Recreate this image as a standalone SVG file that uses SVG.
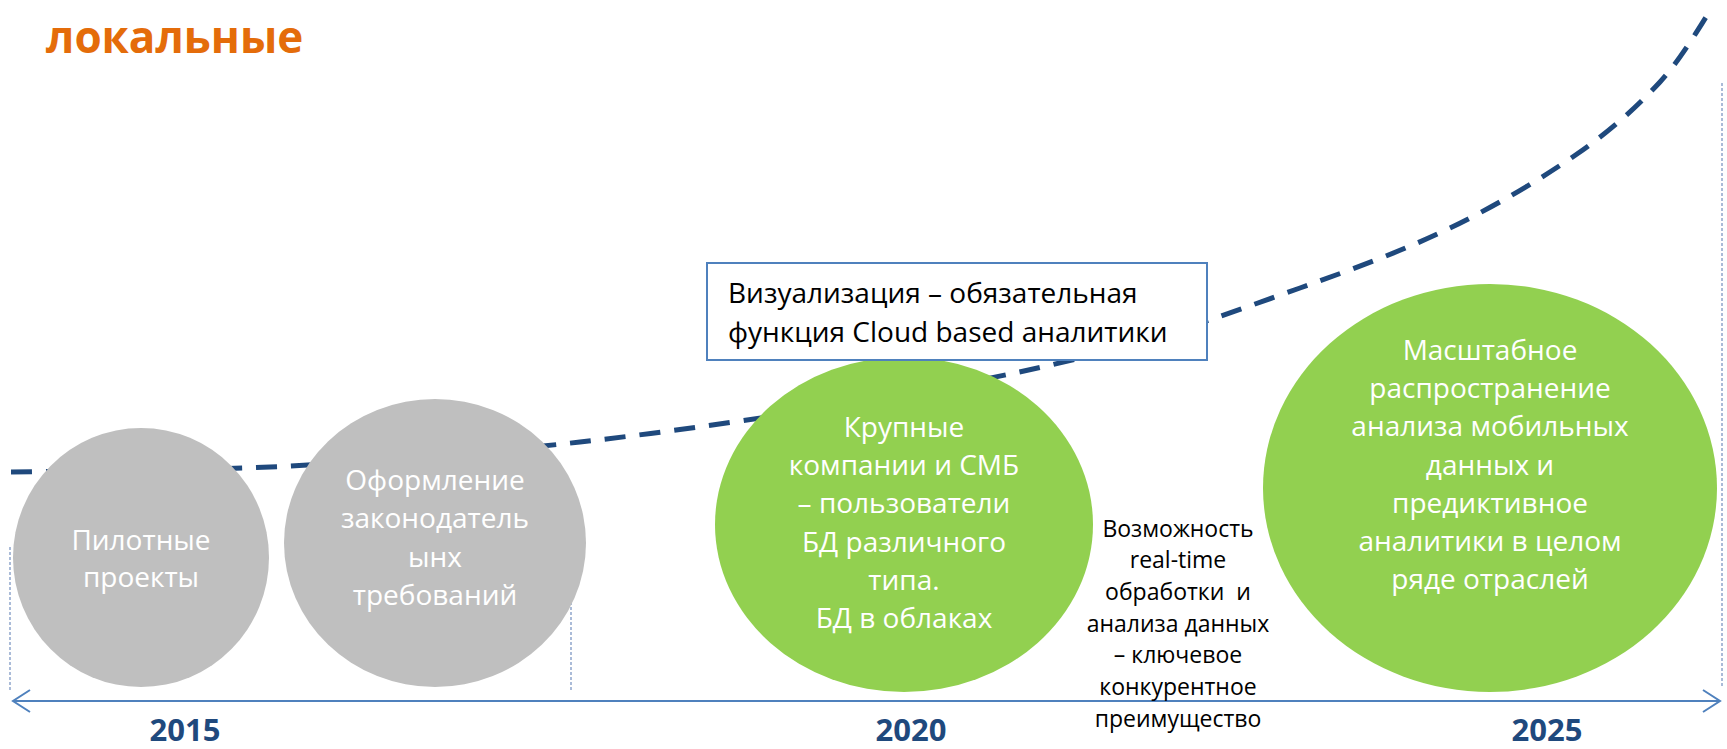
<svg xmlns="http://www.w3.org/2000/svg" width="1727" height="749" viewBox="0 0 1727 749">
  <defs>
    <marker id="chev" viewBox="0 0 20 24" refX="18" refY="12" markerWidth="20" markerHeight="24" markerUnits="userSpaceOnUse" orient="auto-start-reverse">
      <path d="M1 1 L18 12 L1 23" fill="none" stroke="#4F81BD" stroke-width="2"/>
    </marker>
    <style>
      .title { font-family: "Open Sans", "Noto Sans", sans-serif; font-weight: 700; font-size: 44px; fill: #E46C0A; }
      .ctext { font-family: "Open Sans", "Noto Sans", sans-serif; font-size: 28px; fill: #FFFFFF; text-anchor: middle; }
      .btext { font-family: "Open Sans", "Noto Sans", sans-serif; font-size: 28px; fill: #000000; }
      .ntext { font-family: "Open Sans", "Noto Sans", sans-serif; font-size: 23px; fill: #000000; text-anchor: middle; }
      .year { font-family: "Open Sans", "Noto Sans", sans-serif; font-weight: 700; font-size: 31px; fill: #1F497D; text-anchor: middle; }
      .gray { fill: #BFBFBF; }
      .green { fill: #92D050; }
      .vdot { stroke: #8EA5CB; stroke-width: 1.5; stroke-dasharray: 3 2; fill: none; }
      .trend { fill: none; stroke: #1F497D; stroke-width: 5; stroke-dasharray: 21 14; }
      .axis { stroke: #4F81BD; stroke-width: 2; fill: none; }
    </style>
  </defs>

  <rect x="0" y="0" width="1727" height="749" fill="#FFFFFF"/>

  <text class="title" x="46" y="53">локальные</text>

  <g id="connectors">
    <line class="vdot" x1="10" y1="547" x2="10" y2="690"/>
    <line class="vdot" x1="571" y1="547" x2="571" y2="690"/>
    <line class="vdot" x1="1722" y1="83" x2="1722" y2="688"/>
    <path class="trend" d="M11 472 C57.5 471 195.2 471 290 466 C384.8 461 485 452.7 580 442 C675 431.3 773.3 416.8 860 402 C946.7 387.2 1026.7 372 1100 353 C1173.3 334 1241.7 308.8 1300 288 C1358.3 267.2 1403.8 250.3 1450 228 C1496.2 205.7 1542 178.3 1577 154 C1612 129.7 1637.5 106.3 1660 82 C1682.5 57.7 1703.3 20.3 1712 8"/>
    <line class="axis" x1="13" y1="701" x2="1720" y2="701" marker-start="url(#chev)" marker-end="url(#chev)"/>
  </g>

  <g id="node-pilot">
    <ellipse class="gray" cx="141" cy="557.5" rx="128" ry="129.5"/>
    <text class="ctext" x="141" y="550">Пилотные</text>
    <text class="ctext" x="141" y="587">проекты</text>
  </g>

  <g id="node-law">
    <ellipse class="gray" cx="435" cy="543" rx="151" ry="144"/>
    <text class="ctext" x="435" y="490">Оформление</text>
    <text class="ctext" x="435" y="528">законодатель</text>
    <text class="ctext" x="435" y="567">ынх</text>
    <text class="ctext" x="435" y="605">требований</text>
  </g>

  <g id="node-large">
    <ellipse class="green" cx="904" cy="524.5" rx="189" ry="167.5"/>
    <text class="ctext" x="904" y="437">Крупные</text>
    <text class="ctext" x="904" y="475">компании и СМБ</text>
    <text class="ctext" x="904" y="513">– пользователи</text>
    <text class="ctext" x="904" y="552">БД различного</text>
    <text class="ctext" x="904" y="590">типа.</text>
    <text class="ctext" x="904" y="628">БД в облаках</text>
  </g>

  <g id="node-visual">
    <rect x="707" y="263" width="500" height="97" fill="#FFFFFF" stroke="#4F81BD" stroke-width="2"/>
    <text class="btext" x="728" y="303">Визуализация – обязательная</text>
    <text class="btext" x="728" y="342">функция Cloud based аналитики</text>
  </g>

  <g id="node-realtime">
    <text class="ntext" x="1178" y="537">Возможность</text>
    <text class="ntext" x="1178" y="568">real-time</text>
    <text class="ntext" x="1178" y="600" xml:space="preserve">обработки  и</text>
    <text class="ntext" x="1178" y="632">анализа данных</text>
    <text class="ntext" x="1178" y="663">– ключевое</text>
    <text class="ntext" x="1178" y="695">конкурентное</text>
    <text class="ntext" x="1178" y="727">преимущество</text>
  </g>

  <g id="node-mobile">
    <ellipse class="green" cx="1490" cy="488" rx="227" ry="204"/>
    <text class="ctext" x="1490" y="360">Масштабное</text>
    <text class="ctext" x="1490" y="398">распространение</text>
    <text class="ctext" x="1490" y="436">анализа мобильных</text>
    <text class="ctext" x="1490" y="475">данных и</text>
    <text class="ctext" x="1490" y="513">предиктивное</text>
    <text class="ctext" x="1490" y="551">аналитики в целом</text>
    <text class="ctext" x="1490" y="589">ряде отраслей</text>
  </g>

  <g id="years">
    <text class="year" x="185" y="741">2015</text>
    <text class="year" x="911" y="741">2020</text>
    <text class="year" x="1547" y="741">2025</text>
  </g>
</svg>
